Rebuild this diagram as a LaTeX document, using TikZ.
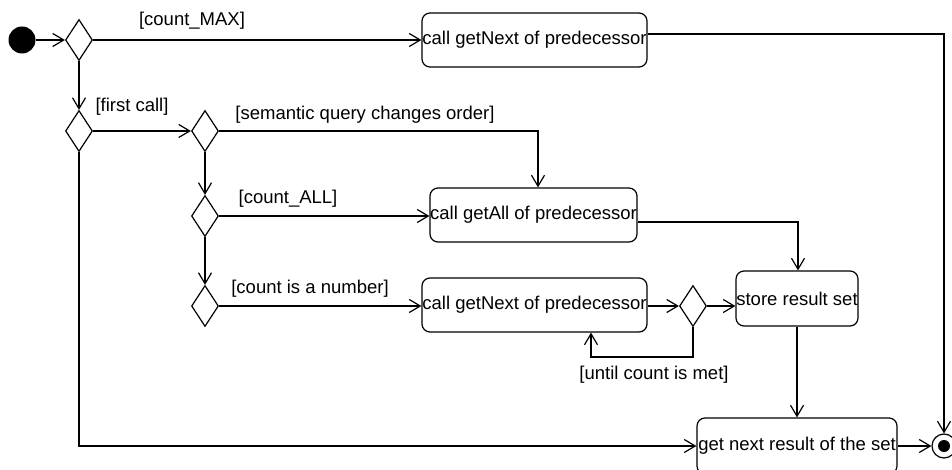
\documentclass[tikz,border=0pt]{standalone}
\usepackage{fontspec}
\setmainfont{Liberation Sans}
\usetikzlibrary{shapes.geometric,arrows.meta}

\tikzset{
  flow/.style={line width=1.2pt, -{Straight Barb[length=11pt,width=13pt,line width=1.2pt]}},
  act/.style={draw, line width=1.2pt, rectangle, rounded corners=8pt, inner sep=0pt,
    minimum height=54pt, align=center},
  choice/.style={draw, line width=1.2pt, diamond, inner sep=0pt,
    minimum width=27pt, minimum height=41pt},
  guard/.style={inner sep=0pt},
}

\begin{document}
\begin{tikzpicture}[x=1pt, y=-1pt, font=\fontsize{18.5}{21}\selectfont]
\useasboundingbox (0,0) rectangle (952,470);
\clip (0,0) rectangle (952,470);

% start and end points
\node[circle, fill=black, minimum size=27pt, inner sep=0pt] (start) at (22,40) {};
\node[circle, draw, line width=1.2pt, minimum size=24pt, inner sep=0pt] (fin) at (944,446) {};
\fill (fin.center) circle (6pt);

% decisions
\node[choice] (d1) at (79,40) {};
\node[choice] (d2) at (79,131) {};
\node[choice] (d3) at (205,131) {};
\node[choice] (d4) at (205,216) {};
\node[choice] (d5) at (205,306) {};
\node[choice] (d6) at (693,306) {};

% actions
\node[act, minimum width=225pt] (b1) at (534.5,40) {call getNext of predecessor};
\node[act, minimum width=207pt] (b2) at (533.5,215) {call getAll of predecessor};
\node[act, minimum width=225pt] (b3) at (534.5,305) {call getNext of predecessor};
\node[act, minimum width=122pt, minimum height=55pt] (b4) at (797,298.5) {store result set};
\node[act, minimum width=200pt, minimum height=56pt] (b5) at (797,446) {get next result of the set};

\coordinate (loop) at (591,357);

% control flow
\draw[flow] (start) -- (d1);
\draw[flow] (d1) -- (b1.west |- d1.east);
\draw[flow] ([yshift=6pt]b1.east) -| (fin.north);
\draw[flow] (d1) -- (d2);
\draw[flow] (d2) -- (d3);
\draw[flow] (d2.south) |- (b5.west);
\draw[flow] (d3.east) -| ([xshift=4.5pt]b2.north);
\draw[flow] (d3) -- (d4);
\draw[flow] (d4) -- (b2.west |- d4.east);
\draw[flow] (d4) -- (d5);
\draw[flow] (d5) -- (b3.west |- d5.east);
\draw[flow] ([yshift=-7pt]b2.east) -| ([xshift=1pt]b4.north);
\draw[flow] (b3.east |- d6.west) -- (d6);
\draw[flow] (d6) -- (b4.west |- d6.east);
\draw[flow] (d6.south) |- (loop) -- (loop |- b3.south);
\draw[flow] (b4) -- (b4.south |- b5.north);
\draw[flow] (b5.east |- fin.west) -- (fin);

% guards
\node[guard] (gmax) at (192,21) {[count\_MAX]};
\node[guard] (gfirst) at (132,107) {[first call]};
\node[guard] (gsem) at (365,115) {[semantic query changes order]};
\node[guard] (gall) at (288,199) {[count\_ALL]};
\node[guard] (gnum) at (310,289) {[count is a number]};
\node[guard] (guntil) at (654,375) {[until count is met]};
\end{tikzpicture}
\end{document}
